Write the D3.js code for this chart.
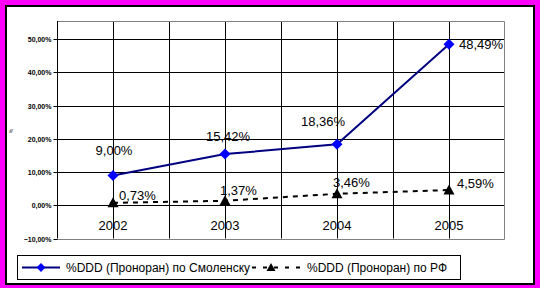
<!DOCTYPE html>
<html><head><meta charset="utf-8">
<script src="https://cdn.jsdelivr.net/npm/d3@7"></script>
<style>html,body{margin:0;padding:0;background:#FF00FF;}svg{display:block;}</style>
</head><body>
<script>
const years = ["2002", "2003", "2004", "2005"];
const smolensk = [9.00, 15.42, 18.36, 48.49];
const rf = [0.73, 1.37, 3.46, 4.59];
const yTicks = [-10, 0, 10, 20, 30, 40, 50];
const seriesNames = ["%DDD (Проноран) по Смоленску", "%DDD (Проноран) по РФ"];

// label placement (layout, not data): [dx, dy, anchor]
const smolLabelPos = [[1, -20, "middle"], [3, -13, "middle"], [-14, -18, "middle"], [10, 5, "start"]];
const rfLabelPos = [[6, -3, "start"], [-5, -6, "start"], [-4, -7, "start"], [8, -2, "start"]];

(function () {
const W = 540, H = 288;
const svg = d3.select("body").append("svg").attr("width", W).attr("height", H);
svg.append("rect").attr("x", 0).attr("y", 0).attr("width", W).attr("height", H).attr("fill", "#FF00FF");
svg.append("rect").attr("x", 6).attr("y", 6).attr("width", 528).attr("height", 278)
  .attr("fill", "#fff").attr("stroke", "#000").attr("stroke-width", 2);

const pL = 57, pR = 505, pT = 21, pB = 238.5;
const x = d3.scaleBand().domain(years).range([pL, pR]).padding(0);
const y = d3.scaleLinear().domain([-10, 55.5]).range([pB, pT]);
const cx = d => x(d) + x.bandwidth() / 2;

const font = "'Liberation Sans', Arial, sans-serif";
const g = svg.append("g");

g.selectAll(".hg").data(yTicks.filter(t => t > -10)).enter().append("line")
  .attr("x1", pL).attr("x2", pR).attr("y1", d => Math.round(y(d)) + 0.5).attr("y2", d => Math.round(y(d)) + 0.5)
  .attr("stroke", "#000").attr("stroke-width", 1);
const vLines = [];
years.forEach((yr, i) => { if (i > 0) vLines.push(x(yr)); vLines.push(cx(yr)); });
g.selectAll(".vg").data(vLines).enter().append("line")
  .attr("x1", d => Math.round(d) + 0.5).attr("x2", d => Math.round(d) + 0.5).attr("y1", pT).attr("y2", pB)
  .attr("stroke", "#000").attr("stroke-width", 1);
g.append("path").attr("d", `M${pL},${Math.round(pT)+0.5}H${pR-0.5}V${Math.round(pB)+0.5}H${pL}`)
  .attr("fill", "none").attr("stroke", "#808080").attr("stroke-width", 1);

const yAxis = d3.axisLeft(y).tickValues(yTicks).tickSize(4).tickPadding(2)
  .tickFormat(d => d3.format(".2f")(d).replace(".", ",") + "%");
const ya = svg.append("g").attr("transform", `translate(${pL + 0.5},0)`).call(yAxis);
ya.select(".domain").attr("stroke", "#000").attr("d", `M0,${pT}V${pB}`);
ya.selectAll(".tick line").attr("stroke", "#000");
ya.selectAll(".tick text").attr("font-family", font).attr("font-size", 7).attr("font-weight", "bold").attr("fill", "#000");
ya.selectAll(".tick").attr("transform", d => `translate(0,${Math.round(y(d)) + 0.5})`);

svg.append("text").attr("transform", "translate(13,131) rotate(-90)").attr("text-anchor", "middle")
  .attr("font-family", font).attr("font-size", 5).text("%");

svg.selectAll(".xl").data(years).enter().append("text")
  .attr("x", d => cx(d)).attr("y", 230).attr("text-anchor", "middle")
  .attr("font-family", font).attr("font-size", 13).text(d => d);

const line = d3.line().x((d, i) => cx(years[i])).y(d => y(d));
svg.append("path").datum(rf).attr("d", line).attr("fill", "none").attr("stroke", "#000")
  .attr("stroke-width", 2).attr("stroke-dasharray", "5,5");
svg.append("path").datum(smolensk).attr("d", line).attr("fill", "none").attr("stroke", "#000080").attr("stroke-width", 2);

const diamond = (px, py, s) => `M${px},${py - s}L${px + s},${py}L${px},${py + s}L${px - s},${py}Z`;
const tri = (px, py, s) => `M${px},${py - s}L${px + s},${py + s * 0.8}L${px - s},${py + s * 0.8}Z`;

svg.selectAll(".dm").data(smolensk).enter().append("path")
  .attr("d", (d, i) => diamond(cx(years[i]), y(d), 5.5)).attr("fill", "#0000FF");
svg.selectAll(".tr").data(rf).enter().append("path")
  .attr("d", (d, i) => tri(cx(years[i]), y(d), 5.5)).attr("fill", "#000");

const fmt = v => d3.format(".2f")(v).replace(".", ",") + "%";
svg.selectAll(".sl").data(smolensk).enter().append("text")
  .attr("x", (d, i) => cx(years[i]) + smolLabelPos[i][0]).attr("y", (d, i) => y(d) + smolLabelPos[i][1])
  .attr("text-anchor", (d, i) => smolLabelPos[i][2])
  .attr("font-family", font).attr("font-size", 13).text(fmt);
svg.selectAll(".rl").data(rf).enter().append("text")
  .attr("x", (d, i) => cx(years[i]) + rfLabelPos[i][0]).attr("y", (d, i) => y(d) + rfLabelPos[i][1])
  .attr("text-anchor", (d, i) => rfLabelPos[i][2])
  .attr("font-family", font).attr("font-size", 13).text(fmt);

const lg = svg.append("g");
lg.append("rect").attr("x", 17.5).attr("y", 255.5).attr("width", 443).attr("height", 24)
  .attr("fill", "#fff").attr("stroke", "#000").attr("stroke-width", 1);
const ly = 267.5;
lg.append("line").attr("x1", 22).attr("x2", 60).attr("y1", ly).attr("y2", ly).attr("stroke", "#000080").attr("stroke-width", 2);
lg.append("path").attr("d", diamond(41, ly, 4.5)).attr("fill", "#0000FF");
lg.append("text").attr("x", 66).attr("y", ly + 4.5).attr("font-family", font).attr("font-size", 12).text(seriesNames[0]);
lg.append("line").attr("x1", 252).attr("x2", 301).attr("y1", ly).attr("y2", ly).attr("stroke", "#000")
  .attr("stroke-width", 2).attr("stroke-dasharray", "4,7");
lg.append("path").attr("d", tri(271, ly, 4.5)).attr("fill", "#000");
lg.append("text").attr("x", 307).attr("y", ly + 4.5).attr("font-family", font).attr("font-size", 12).text(seriesNames[1]);
})();
</script>
</body></html>
